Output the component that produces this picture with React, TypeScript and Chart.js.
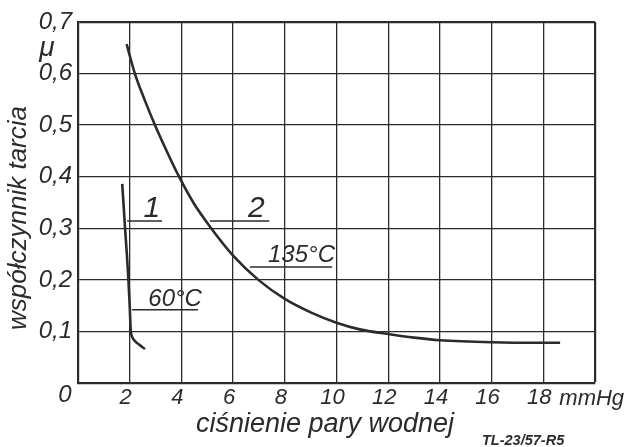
import React, { useEffect, useRef } from "react";
import { Chart, registerables } from "chart.js";

Chart.register(...registerables);

// ---- data ----
const xTickValues = [0, 2, 4, 6, 8, 10, 12, 14, 16, 18, 20];
const yTickValues = [0, 0.1, 0.2, 0.3, 0.4, 0.5, 0.6, 0.7];

// curve 1 (60 °C)
const curve1X = [1.71, 1.77, 1.82, 1.89, 1.95, 2.0, 2.04, 2.07, 2.14, 2.35, 2.59];
const curve1Y = [0.386, 0.34, 0.3, 0.25, 0.2, 0.15, 0.102, 0.093, 0.085, 0.075, 0.066];

// curve 2 (135 °C)
const curve2X = [1.88, 2.2, 2.57, 2.98, 3.43, 3.91, 4.46, 5.08, 6, 7, 8, 9, 10, 10.9, 12, 13, 14, 16, 18, 18.65];
const curve2Y = [0.657, 0.6, 0.55, 0.5, 0.45, 0.4, 0.35, 0.305, 0.247, 0.199, 0.163, 0.137, 0.117, 0.104, 0.095, 0.088, 0.083, 0.079, 0.078, 0.078];

const INK = "#2b2b2b";
const FONT = "'Liberation Sans', 'DejaVu Sans', sans-serif";

const annotationPlugin = {
  id: "annotations",
  afterDraw(chart: any) {
    const { ctx, chartArea, scales } = chart;
    const xs = scales.x;
    const ys = scales.y;
    const px = (v: number) => xs.getPixelForValue(v);
    const py = (v: number) => ys.getPixelForValue(v);
    ctx.save();
    ctx.fillStyle = INK;
    ctx.strokeStyle = INK;

    // leader lines
    ctx.lineWidth = 1.6;
    const seg = (x1: number, x2: number, y: number) => {
      ctx.beginPath();
      ctx.moveTo(px(x1), py(y));
      ctx.lineTo(px(x2), py(y));
      ctx.stroke();
    };
    seg(1.9, 3.25, 0.314);
    seg(5.1, 7.4, 0.314);
    seg(6.65, 9.83, 0.225);
    seg(2.09, 4.64, 0.142);

    ctx.textBaseline = "alphabetic";
    ctx.textAlign = "center";
    ctx.font = `italic 30px ${FONT}`;
    ctx.fillText("1", px(2.86), py(0.322));
    ctx.fillText("2", px(6.9), py(0.322));

    ctx.textAlign = "left";
    ctx.font = `italic 24px ${FONT}`;
    ctx.fillText("135°C", px(7.35), py(0.234));
    ctx.fillText("60°C", px(2.72), py(0.15));

    // corner zero
    ctx.textAlign = "center";
    ctx.font = `italic 24px ${FONT}`;
    ctx.fillText("0", chartArea.left - 13, chartArea.bottom + 19);

    // mu
    ctx.font = `italic 28px ${FONT}`;
    ctx.fillText("μ", chartArea.left - 31, chartArea.top + 34);

    // mmHg
    ctx.textAlign = "left";
    ctx.font = `italic 22px ${FONT}`;
    ctx.fillText("mmHg", px(18) + 16, chartArea.bottom + 22);

    // x title
    ctx.textAlign = "center";
    ctx.font = `italic 27px ${FONT}`;
    ctx.fillText("ciśnienie pary wodnej", 325, chartArea.bottom + 49);

    // y title
    ctx.save();
    ctx.translate(26, 218);
    ctx.rotate(-Math.PI / 2);
    ctx.font = `italic 26px ${FONT}`;
    ctx.fillText("współczynnik tarcia", 0, 0);
    ctx.restore();

    // figure code
    ctx.textAlign = "left";
    ctx.font = `italic bold 14.5px ${FONT}`;
    ctx.fillText("TL-23/57-R5", 482, 445);

    ctx.restore();
  },
};

export default function App() {
  const canvasRef = useRef<HTMLCanvasElement | null>(null);

  useEffect(() => {
    const canvas = canvasRef.current;
    if (!canvas) return;
    const chart = new Chart(canvas, {
      type: "line",
      data: {
        datasets: [
          {
            label: "1 (60°C)",
            data: curve1X.map((x, i) => ({ x, y: curve1Y[i] })),
            borderColor: INK,
            borderWidth: 2.6,
            pointRadius: 0,
            cubicInterpolationMode: "monotone",
            fill: false,
          },
          {
            label: "2 (135°C)",
            data: curve2X.map((x, i) => ({ x, y: curve2Y[i] })),
            borderColor: INK,
            borderWidth: 2.6,
            pointRadius: 0,
            cubicInterpolationMode: "monotone",
            fill: false,
          },
        ],
      },
      options: {
        responsive: false,
        animation: false,
        devicePixelRatio: 1,
        layout: { padding: { top: 22, right: 33, left: 0, bottom: 0 } },
        plugins: {
          legend: { display: false },
          tooltip: { enabled: false },
        },
        scales: {
          x: {
            type: "linear",
            min: 0,
            max: 20,
            afterFit: (s: any) => {
              s.height = 64;
            },
            afterBuildTicks: (s: any) => {
              s.ticks = xTickValues.map((v) => ({ value: v }));
            },
            ticks: {
              autoSkip: false,
              maxRotation: 0,
              padding: 2,
              labelOffset: -4,
              color: INK,
              font: { family: FONT, size: 22, style: "italic" },
              callback: (v: any) => (v === 0 || v === 20 ? "" : String(v)),
            },
            grid: {
              color: INK,
              lineWidth: (c: any) => (c.tick && c.tick.value === 20 ? 2.2 : 1.3),
              drawTicks: false,
            },
            border: { display: true, color: INK, width: 2.2 },
          },
          y: {
            type: "linear",
            min: 0,
            max: 0.7,
            afterFit: (s: any) => {
              s.width = 78;
            },
            afterBuildTicks: (s: any) => {
              s.ticks = yTickValues.map((v) => ({ value: v }));
            },
            ticks: {
              autoSkip: false,
              padding: 6,
              color: INK,
              font: { family: FONT, size: 24, style: "italic" },
              callback: (v: any) => (Math.abs(v) < 1e-9 ? "" : Number(v).toFixed(1).replace(".", ",")),
            },
            grid: {
              color: INK,
              lineWidth: (c: any) => (c.tick && Math.abs(c.tick.value - 0.7) < 1e-9 ? 2.2 : 1.3),
              drawTicks: false,
            },
            border: { display: true, color: INK, width: 2.2 },
          },
        },
      },
      plugins: [annotationPlugin],
    } as any);
    return () => chart.destroy();
  }, []);

  return (
    <div style={{ position: "fixed", left: 0, top: 0, width: 628, height: 447, background: "#fff" }}>
      <canvas ref={canvasRef} width={628} height={447} style={{ display: "block" }} />
    </div>
  );
}
